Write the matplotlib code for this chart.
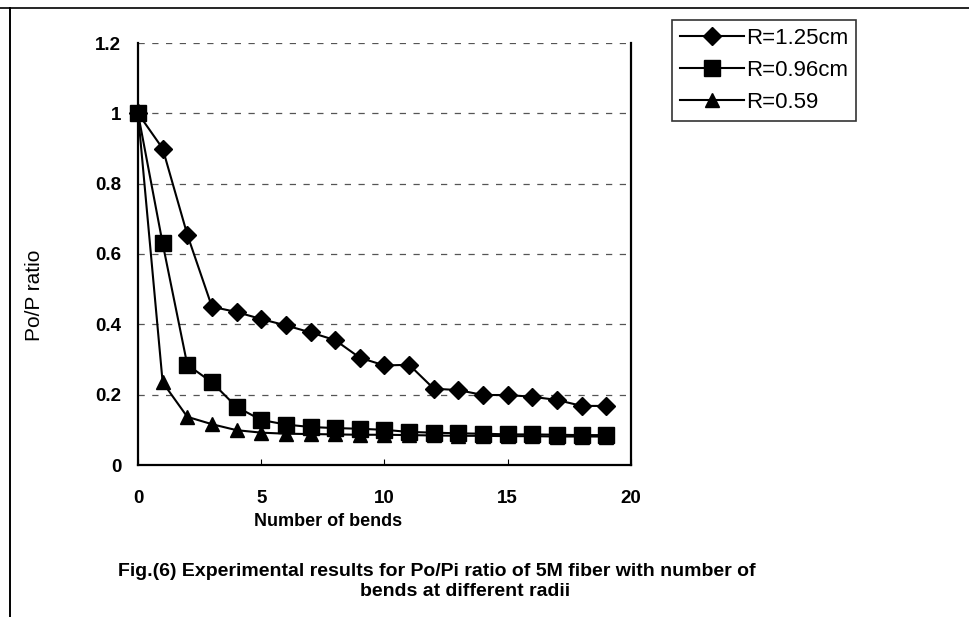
import matplotlib.pyplot as plt
from matplotlib.lines import Line2D

plt.rcParams['font.family'] = ['Liberation Sans', 'DejaVu Sans']

bends = list(range(0, 20))
r125 = [1.0, 0.90, 0.655, 0.45, 0.435, 0.415, 0.397, 0.377, 0.355, 0.305,
        0.283, 0.285, 0.217, 0.213, 0.199, 0.199, 0.194, 0.185, 0.168, 0.168]
r096 = [1.0, 0.63, 0.285, 0.235, 0.165, 0.128, 0.115, 0.108, 0.105, 0.103,
        0.100, 0.094, 0.092, 0.090, 0.089, 0.087, 0.087, 0.086, 0.085, 0.085]
r059 = [1.0, 0.235, 0.137, 0.116, 0.099, 0.092, 0.089, 0.088, 0.087, 0.086,
        0.086, 0.085, 0.084, 0.083, 0.083, 0.082, 0.082, 0.081, 0.081, 0.081]
labels = ['R=1.25cm', 'R=0.96cm', 'R=0.59']

fig = plt.figure(figsize=(9.7, 6.17), dpi=100)
ax = fig.add_axes([138/970, 1-465/617, (631-138)/970, (465-43)/617])

ax.plot(bends, r125, color='black', lw=1.5, marker='D', ms=9, label=labels[0], clip_on=False)
ax.plot(bends, r096, color='black', lw=1.5, marker='s', ms=11, label=labels[1], clip_on=False)
ax.plot(bends, r059, color='black', lw=1.5, marker='^', ms=10, label=labels[2], clip_on=False)

ax.set_xlim(0, 20)
ax.set_ylim(0, 1.2)
ax.set_xticks([0, 5, 10, 15, 20])
ax.set_yticks([0, 0.2, 0.4, 0.6, 0.8, 1, 1.2])
ax.set_yticklabels(['0', '0.2', '0.4', '0.6', '0.8', '1', '1.2'])
ax.yaxis.grid(True, color='#555555', lw=0.9, linestyle=(0, (5, 6)))
ax.set_axisbelow(True)
ax.spines['top'].set_visible(False)
for s in ['left', 'right', 'bottom']:
    ax.spines[s].set_linewidth(1.6)
ax.tick_params(axis='y', length=0, pad=12, labelsize=13.5)
ax.tick_params(axis='x', length=4, pad=18, labelsize=13.5, direction='in')
for t in ax.get_xticklabels() + ax.get_yticklabels():
    t.set_fontweight('bold')

fig.text(328/970, 1-521/617, 'Number of bends', ha='center', va='center', fontsize=13, fontweight='bold')
fig.text(35/970, 1-295/617, 'Po/P ratio', ha='center', va='center', rotation=90, fontsize=15)

fig.text(118/970, 1-571/617, 'Fig.(6) Experimental results for Po/Pi ratio of 5M fiber with number of',
         ha='left', va='center', fontsize=14, fontweight='bold')
fig.text(465/970, 1-592/617, 'bends at different radii', ha='center', va='center', fontsize=14, fontweight='bold')

leg = fig.legend(loc='upper left', bbox_to_anchor=(672/970, 1-20/617), fontsize=16,
                 frameon=True, fancybox=False, edgecolor='black', borderpad=0.35,
                 labelspacing=0.5, handlelength=2.9, handletextpad=0.1, borderaxespad=0)
leg.get_frame().set_linewidth(1.2)

# outer frame of the scanned chart
fig.add_artist(Line2D([0, 1], [1-8/617, 1-8/617], color='black', lw=1.2, transform=fig.transFigure))
fig.add_artist(Line2D([10/970, 10/970], [0, 1-8/617], color='black', lw=1.4, transform=fig.transFigure))

fig.savefig('out.png', dpi=100)
